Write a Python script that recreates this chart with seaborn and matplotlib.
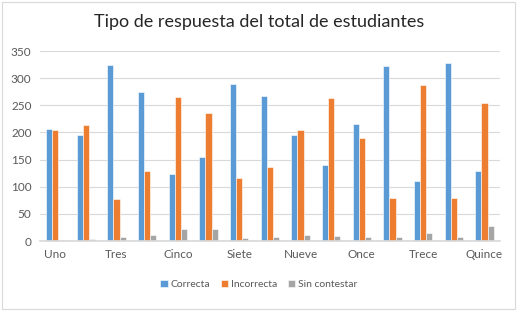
import pandas as pd
import seaborn as sns
import matplotlib.pyplot as plt
from matplotlib.patches import Rectangle

sns.set_theme(style="white")
plt.rcParams["font.family"] = ["Lato", "DejaVu Sans"]

# Data
preguntas = ["Uno", "Dos", "Tres", "Cuatro", "Cinco", "Seis", "Siete", "Ocho",
             "Nueve", "Diez", "Once", "Doce", "Trece", "Catorce", "Quince"]
correcta = [206, 195, 325, 274, 123, 155, 290, 268, 196, 140, 215, 323, 111, 327, 129]
incorrecta = [204, 213, 78, 129, 266, 235, 116, 136, 204, 263, 190, 80, 288, 80, 254]
sin_contestar = [2, 4, 8, 11, 22, 22, 6, 7, 11, 9, 8, 8, 15, 8, 28]
series = ["Correcta", "Incorrecta", "Sin contestar"]
colores = ["#5B9BD5", "#ED7D31", "#A5A5A5"]

df = pd.DataFrame({"pregunta": preguntas, "Correcta": correcta,
                   "Incorrecta": incorrecta, "Sin contestar": sin_contestar})
df = df.melt(id_vars="pregunta", var_name="tipo", value_name="valor")

fig = plt.figure(figsize=(5.18, 3.11), dpi=100)
ax = fig.add_axes([0.077, 0.225, 0.888, 0.611])

sns.barplot(data=df, x="pregunta", y="valor", hue="tipo", hue_order=series,
            palette=colores, saturation=1, width=0.6, edgecolor="white",
            linewidth=0.4, ax=ax)

ax.set_ylim(0, 350)
ax.set_xlim(-0.5, len(preguntas) - 0.5)
ax.set_yticks(range(0, 351, 50))
ax.yaxis.grid(True, color="#D9D9D9", linewidth=0.8)
ax.set_axisbelow(True)
ax.set_xticks(range(0, len(preguntas), 2))
ax.set_xticklabels(preguntas[::2])
ax.tick_params(axis="both", labelsize=8.5, colors="#595959", length=0, pad=6)
ax.set_xlabel("")
ax.set_ylabel("")
for s in ["top", "right", "left"]:
    ax.spines[s].set_visible(False)
ax.spines["bottom"].set_color("#D9D9D9")

fig.suptitle("Tipo de respuesta del total de estudiantes", y=0.955,
             fontsize=13, color="#262626")

handles, labels = ax.get_legend_handles_labels()
ax.legend(handles, labels, loc="center", bbox_to_anchor=(0.5, 0.086),
          bbox_transform=fig.transFigure, ncol=3, frameon=False,
          fontsize=7.5, handlelength=0.7, handleheight=0.7, handletextpad=0.3,
          columnspacing=1.0, labelcolor="#595959")

fig.add_artist(Rectangle((0.004, 0.006), 0.99, 0.988, transform=fig.transFigure,
                         fill=False, edgecolor="#D9D9D9", linewidth=0.8))

fig.savefig("out.png", dpi=100)
